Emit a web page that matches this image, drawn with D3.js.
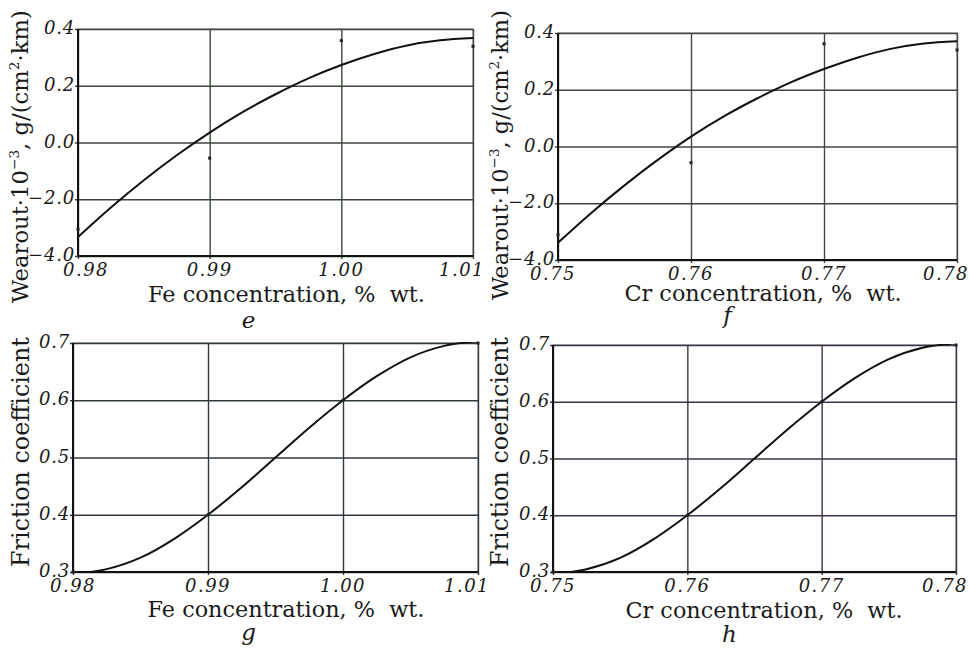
<!DOCTYPE html>
<html lang="en">
<head>
    <meta charset="UTF-8">
    <title>Wearout and friction vs concentration</title>
    <script src="https://d3js.org/d3.v7.min.js"></script>
</head>
<body>
    <div id="svg-container"></div>
</body>
<style>
    *{
        padding: 0;
        margin: 0;
    }
    body{
        background: white;
    }
    svg text{
        font-family: "DejaVu Serif", "Liberation Serif", serif;
        fill: #1a1a1a;
    }
</style>
<script>
    // x categories (measured concentrations)
    const feTicks = [0.98, 0.99, 1.00, 1.01];
    const crTicks = [0.75, 0.76, 0.77, 0.78];
    const feTickLabels = ["0.98", "0.99", "1.00", "1.01"];
    const crTickLabels = ["0.75", "0.76", "0.77", "0.78"];

    // y ticks (labels copied as printed)
    const wearTicks = [-0.4, -0.2, 0.0, 0.2, 0.4];
    const wearTickLabels = ["\u22124.0", "\u22122.0", "0.0", "0.2", "0.4"];
    const fricTicks = [0.3, 0.4, 0.5, 0.6, 0.7];
    const fricTickLabels = ["0.3", "0.4", "0.5", "0.6", "0.7"];

    // measured points
    const wearPointsFe = [-0.306, -0.055, 0.359, 0.339];
    const wearPointsCr = [-0.311, -0.057, 0.362, 0.340];
    const fricPoints = [0.3, 0.4, 0.6, 0.7];

    // fitted curves, every quarter step
    const curveStep = [0, 0.25, 0.5, 0.75, 1, 1.25, 1.5, 1.75, 2, 2.25, 2.5, 2.75, 3];
    const wearCurveFe = [-0.333, -0.229, -0.133, -0.045, 0.035, 0.107, 0.170, 0.226, 0.273, 0.312, 0.342, 0.360, 0.368];
    const wearCurveCr = [-0.339, -0.234, -0.137, -0.047, 0.035, 0.107, 0.170, 0.226, 0.273, 0.313, 0.344, 0.363, 0.371];
    const fricCurveFe = [0.297, 0.305, 0.325, 0.358, 0.400, 0.448, 0.500, 0.552, 0.600, 0.642, 0.675, 0.695, 0.703];
    const fricCurveCr = [0.297, 0.305, 0.325, 0.358, 0.400, 0.448, 0.500, 0.552, 0.600, 0.642, 0.675, 0.695, 0.703];

    var w = 969;
    var h = 653;

    var svg = d3.select('#svg-container')
        .append('svg')
        .attr('width', w)
        .attr('height', h);

    // [text, superscript?]
    const wearTitle = [["Wearout\u00b710", 0], ["\u22123", 1], [", g/(cm", 0], ["2", 1], ["\u00b7km)", 0]];
    const fricTitle = [["Friction coefficient", 0]];

    let panels = [
        {id: "e", x0: 78, x1: 473, y0: 29, y1: 256, xt: feTicks, xl: feTickLabels,
         yt: wearTicks, yl: wearTickLabels, pts: wearPointsFe, crv: wearCurveFe,
         xTitle: "Fe concentration, %  wt.", yTitle: wearTitle, grid: "#3b463b",
         firstDx: 8, letterDx: -27, letterY: 328, titleX: 28, titleY: 156.5, titleLen: 293,
         xTitleX: 286.5, xTitleY: 302},
        {id: "f", x0: 558, x1: 957, y0: 33, y1: 260, xt: crTicks, xl: crTickLabels,
         yt: wearTicks, yl: wearTickLabels, pts: wearPointsCr, crv: wearCurveCr,
         xTitle: "Cr concentration, %  wt.", yTitle: wearTitle, grid: "#454545",
         firstDx: -5, letterDx: -30, letterY: 323, titleX: 508, titleY: 155, titleLen: 290,
         xTitleX: 763, xTitleY: 301},
        {id: "g", x0: 73, x1: 478, y0: 343, y1: 572, xt: feTicks, xl: feTickLabels,
         yt: fricTicks, yl: fricTickLabels, pts: fricPoints, crv: fricCurveFe,
         xTitle: "Fe concentration, %  wt.", yTitle: fricTitle, grid: "#2f3a3e",
         firstDx: 0, letterDx: -27, letterY: 640, titleX: 29, titleY: 452, titleLen: 230,
         xTitleX: 286, xTitleY: 617},
        {id: "h", x0: 553, x1: 956, y0: 345, y1: 572, xt: crTicks, xl: crTickLabels,
         yt: fricTicks, yl: fricTickLabels, pts: fricPoints, crv: fricCurveCr,
         xTitle: "Cr concentration, %  wt.", yTitle: fricTitle, grid: "#3e3446",
         firstDx: 0, letterDx: -25, letterY: 642, titleX: 508, titleY: 452, titleLen: 230,
         xTitleX: 764, xTitleY: 618}
    ];

    // scale a text's font size so its length matches the target
    function fitText(t, target, base) {
        let len = t.node().getComputedTextLength();
        let k = target / len;
        t.attr('font-size', base * k);
        t.selectAll('tspan').each(function() {
            let s = d3.select(this);
            let fs = s.attr('font-size');
            if (fs) s.attr('font-size', fs * k);
            let dy = s.attr('dy');
            if (dy) s.attr('dy', dy * k);
        });
    }

    panels.forEach(p => {
        let xScale = d3.scaleLinear()
            .domain([p.xt[0], p.xt[p.xt.length - 1]])
            .range([p.x0, p.x1]);
        let yScale = d3.scaleLinear()
            .domain([p.yt[0], p.yt[p.yt.length - 1]])
            .range([p.y1, p.y0]);

        let g = svg.append('g');

        // frame top/right
        g.append('rect')
            .attr('x', p.x0).attr('y', p.y0)
            .attr('width', p.x1 - p.x0).attr('height', p.y1 - p.y0)
            .attr('fill', 'none').attr('stroke', '#8a8a8a').attr('stroke-width', 1.2);

        // grid
        let xAxis = d3.axisBottom(xScale)
            .tickValues(p.xt)
            .tickSize(-(p.y1 - p.y0) - 3)
            .tickFormat("");
        let yAxis = d3.axisLeft(yScale)
            .tickValues(p.yt)
            .tickSize(-(p.x1 - p.x0) - 3)
            .tickFormat("");

        let gx = g.append('g')
            .attr('transform', `translate(0,${p.y1 + 3})`)
            .call(xAxis);
        let gy = g.append('g')
            .attr('transform', `translate(${p.x0 - 3},0)`)
            .call(yAxis);
        [gx, gy].forEach(a => {
            a.select('.domain').remove();
            a.selectAll('.tick line')
                .attr('stroke', p.grid)
                .attr('stroke-width', 1.4);
        });

        // left and bottom axis lines
        g.append('line')
            .attr('x1', p.x0).attr('x2', p.x0)
            .attr('y1', p.y0).attr('y2', p.y1 + 1)
            .attr('stroke', '#111').attr('stroke-width', 2);
        g.append('line')
            .attr('x1', p.x0 - 1).attr('x2', p.x1)
            .attr('y1', p.y1).attr('y2', p.y1)
            .attr('stroke', '#111').attr('stroke-width', 2);

        // tick labels
        g.selectAll('text.xlab')
            .data(p.xt)
            .enter()
            .append('text')
            .attr('class', 'xlab')
            .attr('x', (d, i) => xScale(d) + (i == 0 ? p.firstDx : (i == p.xt.length - 1 ? -11 : 0)))
            .attr('y', p.y1 + 20)
            .attr('text-anchor', 'middle')
            .attr('font-style', 'italic')
            .attr('font-size', 18)
            .attr('letter-spacing', 1.5)
            .text((d, i) => p.xl[i]);

        g.selectAll('text.ylab')
            .data(p.yt)
            .enter()
            .append('text')
            .attr('class', 'ylab')
            .attr('x', p.x0 - 3)
            .attr('y', d => yScale(d) + 5)
            .attr('text-anchor', 'end')
            .attr('font-style', 'italic')
            .attr('font-size', 18)
            .attr('letter-spacing', 0.8)
            .text((d, i) => p.yl[i]);

        // x title
        let xt = g.append('text')
            .attr('x', p.xTitleX)
            .attr('y', p.xTitleY)
            .attr('text-anchor', 'middle')
            .attr('font-size', 20)
            .style('white-space', 'pre')
            .text(p.xTitle);
        fitText(xt, 277, 20);

        // y title
        let yt = g.append('text')
            .attr('transform', `translate(${p.titleX},${p.titleY}) rotate(-90)`)
            .attr('text-anchor', 'middle')
            .attr('font-size', 20);
        p.yTitle.forEach(part => {
            if (part[1]) {
                yt.append('tspan').attr('font-size', 12).attr('dy', -8).text(part[0]);
            } else {
                let s = yt.append('tspan').text(part[0]);
                if (yt.selectAll('tspan').size() > 1) s.attr('dy', 8);
            }
        });
        fitText(yt, p.titleLen, 20);

        // panel letter
        g.append('text')
            .attr('x', (p.x0 + p.x1) / 2 + p.letterDx)
            .attr('y', p.letterY)
            .attr('text-anchor', 'middle')
            .attr('font-style', 'italic')
            .attr('font-size', 23)
            .text(p.id);

        // fitted curve (clipped to plot area)
        let clipId = 'clip-' + p.id;
        svg.append('clipPath').attr('id', clipId)
            .append('rect')
            .attr('x', p.x0).attr('y', p.y0 - 1)
            .attr('width', p.x1 - p.x0).attr('height', p.y1 - p.y0 + 1);

        let x0v = p.xt[0];
        let step = (p.xt[1] - p.xt[0]);
        let line = d3.line()
            .x((d, i) => xScale(x0v + curveStep[i] * step))
            .y(d => yScale(d))
            .curve(d3.curveMonotoneX);

        g.append('path')
            .datum(p.crv)
            .attr('clip-path', `url(#${clipId})`)
            .attr('d', line)
            .attr('fill', 'none')
            .attr('stroke', '#111')
            .attr('stroke-width', 2);

        // measured points
        g.selectAll('rect.pt')
            .data(p.pts)
            .enter()
            .append('rect')
            .attr('class', 'pt')
            .attr('x', (d, i) => xScale(p.xt[i]) - 1.5)
            .attr('y', d => yScale(d) - 1.5)
            .attr('width', 3)
            .attr('height', 3)
            .attr('fill', '#222');
    });
</script>
</html>
